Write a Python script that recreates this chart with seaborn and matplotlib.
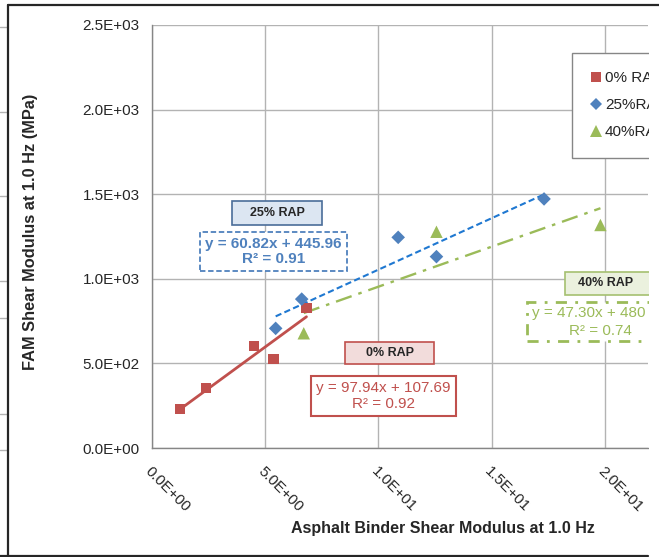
import matplotlib
matplotlib.use("Agg")
import matplotlib.pyplot as plt
from matplotlib.patches import Rectangle
from matplotlib.lines import Line2D
import seaborn as sns
import numpy as np
import pandas as pd

# ---------------- data ----------------
rap0_x = [1.24, 2.38, 4.51, 5.37, 6.82]
rap0_y = [230, 355, 603, 524, 826]
rap25_x = [5.46, 6.61, 10.87, 12.56, 17.31]
rap25_y = [707, 880, 1245, 1131, 1472]
rap40_x = [6.70, 12.56, 19.80]
rap40_y = [678, 1278, 1318]

series_names = ["0% RAP", "25%RAP", "40%RAP"]
trend_slopes = [97.94, 60.82, 47.30]
trend_intercepts = [107.69, 445.96, 480.50]
r_squared = [0.92, 0.91, 0.74]

x_ticks = [0, 5, 10, 15, 20]
y_ticks = [0, 500, 1000, 1500, 2000, 2500]

# ---------------- style ----------------
sns.set_style("white")
plt.rcParams["font.family"] = ["Liberation Sans", "DejaVu Sans"]

W, H = 659, 557
fig = plt.figure(figsize=(W / 100, H / 100), dpi=100)
fig.patch.set_facecolor("white")


def fx(px):
    return px / W


def fy(py):
    return 1 - py / H


ax = fig.add_axes([fx(152), fy(448), fx(648) - fx(152), fy(25) - fy(448)])

RED = "#c0504d"
BLUE = "#4f81bd"
GREEN = "#9bbb59"
GRID = "#b3b3b3"
AXC = "#868686"

xs = [rap0_x, rap25_x, rap40_x]
ys = [rap0_y, rap25_y, rap40_y]
colors = [RED, BLUE, GREEN]
markers = ["s", "D", "^"]
sizes = [55, 48, 80]

# trendlines
line_colors = [RED, "#1f78d1", GREEN]
line_styles = ["-", (0, (3, 1.6)), (0, (7, 3, 1.5, 3))]
line_widths = [2.0, 1.5, 1.7]
for i in range(3):
    xr = np.array([min(xs[i]), max(xs[i])])
    yr = trend_slopes[i] * xr + trend_intercepts[i]
    sns.lineplot(x=xr, y=yr, ax=ax, color=line_colors[i], lw=line_widths[i],
                 linestyle=line_styles[i], legend=False, zorder=3)

# scatter points
handles = []
for i in range(3):
    df = pd.DataFrame({"x": xs[i], "y": ys[i]})
    sns.scatterplot(data=df, x="x", y="y", ax=ax, color=colors[i], marker=markers[i],
                    s=sizes[i], edgecolor="none", linewidth=0, zorder=4, legend=False)
    handles.append(Line2D([], [], linestyle="none", marker=markers[i], color=colors[i],
                          markersize=[7, 6, 8][i], markeredgewidth=0))

ax.set_xlim(0, 21.9)
ax.set_ylim(0, 2500)
ax.set_xticks(x_ticks)
ax.set_yticks(y_ticks)
ax.set_xticklabels([f"{v:.1E}" for v in x_ticks], rotation=-45, ha="left", va="top",
                   rotation_mode="anchor", fontsize=11)
ax.set_yticklabels([f"{v:.1E}" for v in y_ticks], fontsize=11)
ax.grid(True, color=GRID, lw=1)
ax.set_axisbelow(True)
for s in ["top", "right"]:
    ax.spines[s].set_visible(False)
for s in ["left", "bottom"]:
    ax.spines[s].set_color(AXC)
    ax.spines[s].set_linewidth(1)
ax.tick_params(axis="both", direction="out", length=5, color=AXC, width=1, pad=4)
ax.tick_params(axis="x", pad=7)
ax.set_xlabel("")
ax.set_ylabel("")

fig.text(fx(443), fy(529), "Asphalt Binder Shear Modulus at 1.0 Hz", ha="center", va="center",
         fontsize=11.5, fontweight="bold")
fig.text(fx(31), fy(232), "FAM Shear Modulus at 1.0 Hz (MPa)", ha="center", va="center",
         rotation=90, fontsize=11.8, fontweight="bold")

# legend
leg = fig.legend(handles, series_names, loc="upper left", bbox_to_anchor=(fx(572), fy(53)),
                 frameon=True, fancybox=False, edgecolor=AXC, framealpha=1, fontsize=11,
                 borderpad=1.2, labelspacing=0.85, handlelength=0.7, handletextpad=0.25,
                 borderaxespad=0)
leg.get_frame().set_linewidth(1)


# annotation boxes
def box(x0, y0, x1, y1, fc, ec, lw=1.2, ls="-"):
    r = Rectangle((fx(x0), fy(y1)), fx(x1) - fx(x0), fy(y0) - fy(y1), transform=fig.transFigure,
                  facecolor=fc, edgecolor=ec, lw=lw, linestyle=ls, zorder=6)
    fig.add_artist(r)


box(232, 201, 322, 225, "#dce6f2", "#4a6d99")
fig.text(fx(277), fy(213), "25% RAP", ha="center", va="center", fontsize=9, fontweight="bold", zorder=7)
box(200, 232, 347, 271, "white", BLUE, lw=1.3, ls=(0, (3, 1.5)))
fig.text(fx(273.5), fy(251.5), f"y = {trend_slopes[1]:.2f}x + {trend_intercepts[1]:.2f}\nR² = {r_squared[1]:.2f}",
         ha="center", va="center", fontsize=11, fontweight="bold", color=BLUE, zorder=7, linespacing=1.1)

box(345, 342, 434, 364, "#f2dcdb", RED)
fig.text(fx(389.5), fy(353), "0% RAP", ha="center", va="center", fontsize=9, fontweight="bold", zorder=7)
box(311, 376, 456, 416, "white", RED, lw=1.5)
fig.text(fx(383.5), fy(396), f"y = {trend_slopes[0]:.2f}x + {trend_intercepts[0]:.2f}\nR² = {r_squared[0]:.2f}",
         ha="center", va="center", fontsize=11, color=RED, zorder=7, linespacing=1.1)

box(565, 272, 660, 295, "#ebf1de", "#a5c070")
fig.text(fx(606), fy(283.5), "40% RAP", ha="center", va="center", fontsize=9, fontweight="bold", zorder=7)
box(527, 302, 680, 341, "white", GREEN, lw=2, ls=(0, (4, 3, 1, 3)))
fig.text(fx(532), fy(313), f"y = {trend_slopes[2]:.2f}x + 480", ha="left", va="center",
         fontsize=11, color=GREEN, zorder=7)
fig.text(fx(600), fy(331), f"R² = {r_squared[2]:.2f}", ha="center", va="center",
         fontsize=11, color=GREEN, zorder=7)

# clip strip on right (reference is cropped here)
fig.add_artist(Rectangle((fx(649), 0), 1 - fx(649), fy(7), transform=fig.transFigure,
                         facecolor="white", edgecolor="none", zorder=20))

# left fragments of neighbouring chart
for yy in [27, 112, 196, 281, 318, 414, 450]:
    fig.add_artist(Line2D([0, fx(7)], [fy(yy)] * 2, transform=fig.transFigure, color=GRID, lw=1, zorder=21))

# outer border
border = "#262626"
fig.add_artist(Line2D([fx(8), fx(8)], [fy(5), 0], transform=fig.transFigure, color=border, lw=1.6, zorder=22))
fig.add_artist(Line2D([fx(8), 1], [fy(5), fy(5)], transform=fig.transFigure, color=border, lw=1.6, zorder=22))
fig.add_artist(Line2D([0, fx(648)], [fy(556), fy(556)], transform=fig.transFigure, color=border, lw=1.6, zorder=22))

fig.savefig("out.png", dpi=100)
